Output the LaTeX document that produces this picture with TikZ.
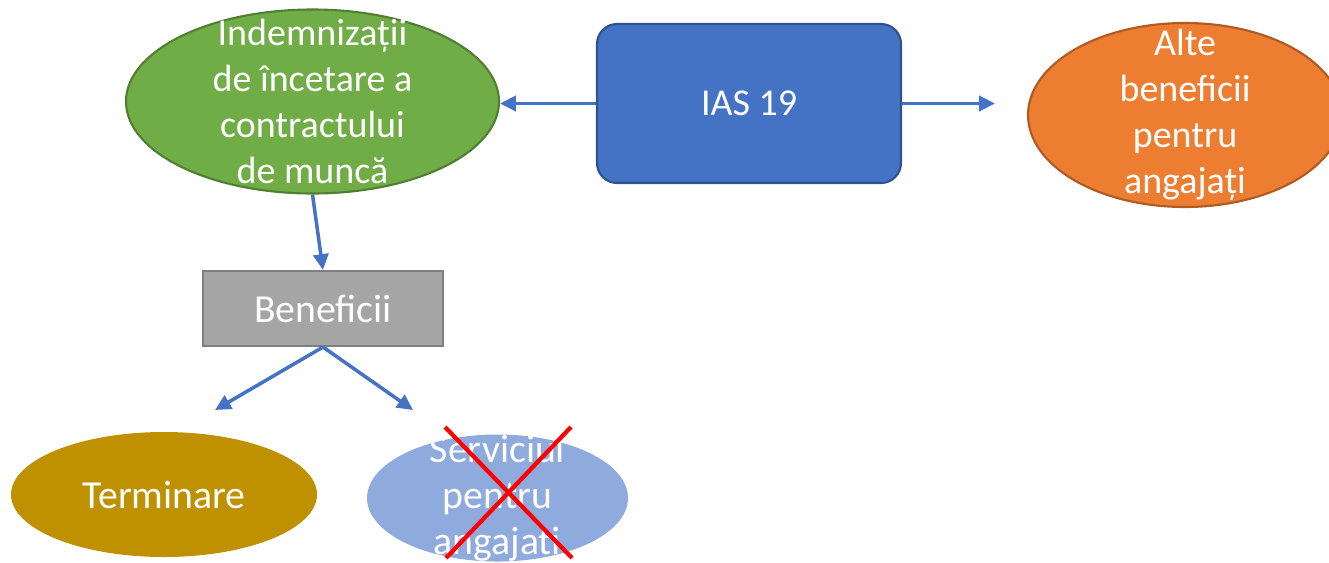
\documentclass[tikz,border=0pt]{standalone}
\usepackage{fontspec}
\setmainfont{Carlito}
\usetikzlibrary{shapes.geometric, arrows.meta}
\definecolor{iasblue}{HTML}{4472C4}
\definecolor{iasdark}{HTML}{2F528F}
\definecolor{greenfill}{HTML}{70AD47}
\definecolor{greendark}{HTML}{507E32}
\definecolor{orangefill}{HTML}{ED7D31}
\definecolor{orangedark}{HTML}{AE5A21}
\definecolor{grayfill}{HTML}{A5A5A5}
\definecolor{graydark}{HTML}{7F7F7F}
\definecolor{goldfill}{HTML}{BF9000}
\definecolor{skyfill}{HTML}{8FAADC}

\begin{document}
\begin{tikzpicture}[x=1cm, y=1cm,
  txt/.style={text=white, align=center, font=\fontsize{10.8}{13.1}\selectfont},
  bigtxt/.style={txt, font=\fontsize{11.3}{13.1}\selectfont},
  oval/.style={ellipse, inner sep=0pt, line width=0.6pt},
  link/.style={draw=iasblue, line width=1pt, -{Triangle[length=4.5pt, width=4.3pt]}},
  crossline/.style={draw=red, line width=1.2pt}]

  % Canvas
  \useasboundingbox (0, 0) rectangle (13.29, 5.62);

  % IAS 19
  \node[txt, draw=iasdark, fill=iasblue, rounded corners=0.2cm, line width=0.6pt,
    minimum width=3.04cm, minimum height=1.59cm] (ias) at (7.49, 4.585) {IAS 19};

  % Top row ellipses
  \node[oval, draw=greendark, fill=greenfill, minimum width=3.73cm, minimum height=1.84cm,
    label={[txt]center:{Indemnizații\\de încetare a\\contractului\\de muncă}}]
    (indem) at (3.125, 4.605) {};
  \node[oval, draw=orangedark, fill=orangefill, minimum width=3.14cm, minimum height=1.84cm,
    label={[txt]center:{Alte\\beneficii\\pentru\\angajați}}]
    (alte) at (11.85, 4.47) {};

  % Beneficii
  \node[bigtxt, draw=graydark, fill=grayfill, line width=0.6pt,
    minimum width=2.40cm, minimum height=0.75cm] (benef) at (3.23, 2.535) {Beneficii};

  % Bottom row ellipses
  \node[oval, bigtxt, fill=goldfill, minimum width=3.06cm, minimum height=1.25cm]
    (term) at (1.64, 0.675) {Terminare};
  \node[oval, fill=skyfill, minimum width=2.61cm, minimum height=1.27cm,
    label={[bigtxt]center:{Serviciul\\pentru\\angajati}}]
    (serv) at (4.975, 0.64) {};

  % Arrows
  \draw[link] (ias.west) -- (ias.west -| indem.east);
  \draw[link, shorten >=0.32cm] (ias.east) -- (ias.east -| alte.west);
  \draw[link] (indem.south) -- (benef.north);
  \coordinate (tipterm) at (2.15, 1.52);
  \coordinate (tipserv) at (4.13, 1.52);
  \draw[link] (benef.south) -- (tipterm);
  \draw[link] (benef.south) -- (tipserv);

  % Cross over Serviciul
  \draw[crossline] (4.45, 1.35) -- (5.72, 0.04);
  \draw[crossline] (5.71, 1.35) -- (4.46, 0.04);

\end{tikzpicture}
\end{document}
